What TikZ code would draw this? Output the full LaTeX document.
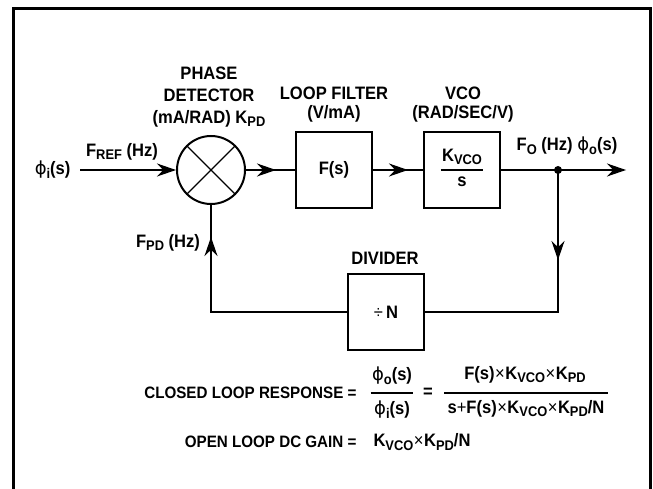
\documentclass[tikz,border=0pt]{standalone}
\usepackage{fontspec}
\setmainfont{Liberation Sans}[FakeStretch=0.92]
\newfontfamily\phfont{DejaVu Sans}
\usetikzlibrary{positioning, arrows.meta}
\newcommand{\lo}[1]{\raisebox{-0.35ex}{\fontsize{14}{14}\selectfont #1}}
\newcommand{\ph}{{\phfont\mdseries ϕ}}
\newcommand{\tms}{\hspace{0.5pt}{\mdseries ×}\hspace{0.5pt}}
\tikzset{
  >={Stealth[length=19pt, width=13pt]}, % long filled arrow heads
  every node/.style={font=\fontsize{18}{20}\selectfont\bfseries}, % bold sans everywhere
  block/.style={draw, line width=2pt, minimum size=76pt, inner sep=0pt}, % square boxes
  mixer/.style={draw, circle, line width=2pt, minimum size=68pt, inner sep=0pt}, % phase detector
  wire/.style={line width=1.2pt}, % signal lines
  title/.style={align=center, font=\fontsize{18}{#1}\selectfont\bfseries}, % block captions
  eqlbl/.style={anchor=east, font=\fontsize{16.5}{18}\selectfont\bfseries}, % equation names
}

\begin{document}
\begin{tikzpicture}[x=1pt, y=-1pt]
    % page size and outer frame
    \useasboundingbox (0,0) rectangle (653,489);
    \draw[line width=3pt] (13.5,495) -- (13.5,8.5) -- (650.5,8.5) -- (650.5,495);

    % blocks
    \node[mixer] (pd) at (211,170) {};
    \node[block, right=49pt of pd] (lf) {F(s)};
    \node[block, right=50pt of lf] (vco) {};
    \node[block] (dv) at (386,312) {{\mdseries ÷}\,N};

    % block captions
    \node[title=22] (pdlbl) at (209,97) {PHASE\\DETECTOR\\(mA/RAD) K\lo{PD}};
    \node[title=19] (lflbl) at (334,105) {LOOP FILTER\\(V/mA)};
    \node[title=19] (vcolbl) at (463,105) {VCO\\(RAD/SEC/V)};
    \node (dvlbl) at (385,258) {DIVIDER};

    % inside the VCO
    \node[inner sep=1pt] (kv) at ([yshift=13pt]vco.center) {K\lo{VCO}};
    \node (vs) at ([yshift=-12pt]vco.center) {s};
    \draw[wire] (kv.west |- vco.center) -- (kv.east |- vco.center);

    % cross in the detector
    \draw[wire] (pd.north west) -- (pd.south east) (pd.north east) -- (pd.south west);

    % forward path
    \coordinate (in) at (80,170);
    \coordinate (tap) at (558,170);
    \coordinate (out) at (626,170);
    \node[anchor=east] (phi) at (74,170) {\ph\lo{i}(s)};
    \node (fref) at (122,152) {F\lo{REF} (Hz)};
    \draw[wire, ->] (in) -- (pd.west);
    \draw[wire] (pd) -- (lf);
    \draw[wire, ->] (pd.east) -- ([xshift=-19pt]lf.west);
    \draw[wire] (lf) -- (vco);
    \draw[wire, ->] (lf.east) -- ([xshift=-15pt]vco.west);
    \draw[wire, ->] (vco.east) -- (out);
    \fill (tap) circle (4pt);
    \node (fo) at (567,146) {F\lo{O} (Hz) \ph\lo{o}(s)};

    % feedback path
    \coordinate (rc) at (tap |- dv);
    \coordinate (lc) at (pd |- dv);
    \draw[wire] (tap) -- (rc) -- (dv.east);
    \draw[wire, ->] (tap) -- ++(0,90);
    \draw[wire] (dv.west) -- (lc) -- (pd.south);
    \draw[wire, ->] (lc) -- ++(0,-75);
    \node (fpd) at (168,243) {F\lo{PD} (Hz)};

    % closed loop response
    \node[eqlbl] (clr) at (360,393) {CLOSED LOOP RESPONSE =};
    \node (n1) at (392,376) {\ph\lo{o}(s)};
    \node (d1) at (392,410) {\ph\lo{i}(s)};
    \draw[wire] (d1.west |- clr) -- (d1.east |- clr);
    \node (eq) at (428,393) {=};
    \node (n2) at (525,375) {F(s)\tms K\lo{VCO}\tms K\lo{PD}};
    \node (d2) at (526,409) {s{\mdseries +}F(s)\tms K\lo{VCO}\tms K\lo{PD}/N};
    \draw[wire] (d2.west |- eq) -- (d2.east |- eq);

    % open loop gain
    \node[eqlbl] (olg) at (360,442) {OPEN LOOP DC GAIN =};
    \node[anchor=west] (gain) at (370,442) {K\lo{VCO}\tms K\lo{PD}/N};
\end{tikzpicture}
\end{document}
